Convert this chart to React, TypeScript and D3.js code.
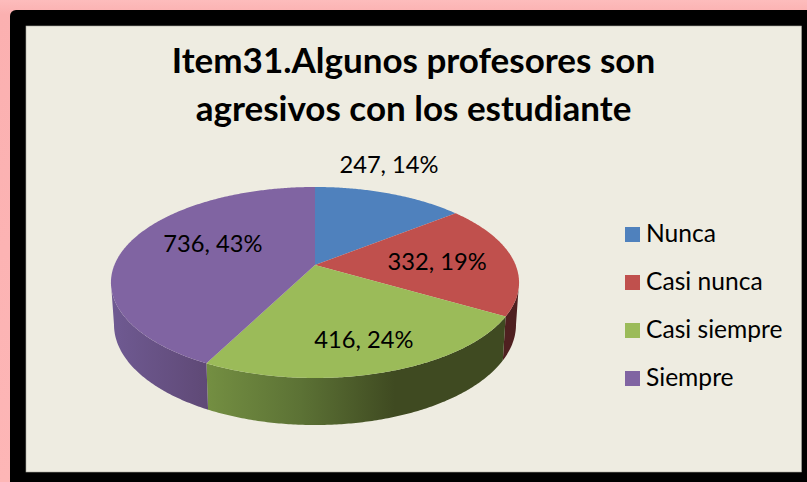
import React from "react";
import * as d3 from "d3";

const categories = ["Nunca", "Casi nunca", "Casi siempre", "Siempre"];
const counts = [247, 332, 416, 736];
const percents = ["14%", "19%", "24%", "43%"];
const topColors = ["#4f81bd", "#c0504d", "#9bbb59", "#8064a2"];
const titleLines = ["Item31.Algunos profesores son", "agresivos con los estudiante"];

// layout constants
const W = 807, H = 482;
const cx = 315, cy = 265;
const A = 200.6, B = 92.3, P = 0.183;
const labelShift: [number, number][] = [[26.5, -55], [3, 1], [11, 16], [12, -8]];
const titleBaselines = [73, 121];
const FONT = "Lato, 'Open Sans', sans-serif";

const project = (a: number, r = 1): [number, number] => {
  const u = r * Math.sin(a), v = -r * Math.cos(a);
  const w = 1 - P * v;
  return [cx + (A * u) / w, cy + (B * v) / w];
};
const projectBottom = (a: number): [number, number] => {
  const [x, y] = project(a);
  return [cx + (x - cx) * 0.985, cy + (y - cy) * 1.05 + 41.4];
};
const sample = (a0: number, a1: number) => {
  const n = Math.max(2, Math.ceil(Math.abs(a1 - a0) / 0.01));
  return d3.range(n + 1).map((i) => a0 + ((a1 - a0) * i) / n);
};
const line = d3.line<[number, number]>().x((d) => d[0]).y((d) => d[1]);

const arcs = d3.pie<number>().sort(null)(counts);
const wallStart = (100.5 * Math.PI) / 180, wallEnd = (259.5 * Math.PI) / 180;
const wallFill = ["none", "#4f2020", "url(#greenWall)", "url(#purpleWall)"];

export default function App() {
  return (
    <svg width={W} height={H} viewBox={`0 0 ${W} ${H}`} style={{ position: "fixed", left: 0, top: 0, display: "block" }}>
      <defs>
        <linearGradient id="pink" x1="0" y1="0" x2="0" y2="1">
          <stop offset="0" stopColor="#fdbcbc" />
          <stop offset="0.03" stopColor="#fbb0b0" />
          <stop offset="1" stopColor="#fdb6b6" />
        </linearGradient>
        <linearGradient id="greenWall" gradientUnits="userSpaceOnUse" x1="206" y1="0" x2="395" y2="0">
          <stop offset="0" stopColor="#748f42" />
          <stop offset="0.5" stopColor="#5c7235" />
          <stop offset="1" stopColor="#3f4a21" />
        </linearGradient>
        <linearGradient id="purpleWall" gradientUnits="userSpaceOnUse" x1="112" y1="0" x2="208" y2="0">
          <stop offset="0" stopColor="#6f5a92" />
          <stop offset="1" stopColor="#5f4976" />
        </linearGradient>
      </defs>
      <rect width={W} height={H} fill="url(#pink)" />
      <rect x={10} y={10} width={W} height={H} rx={6} fill="#000" />
      <rect x={26} y={26} width={775.5} height={446} fill="#eeece1" stroke="#a9a89f" strokeWidth={0.6} />

      {titleLines.map((t, i) => (
        <text key={t} x={413.5} y={titleBaselines[i]} textAnchor="middle" fontFamily={FONT} fontWeight={700} fontSize={35} fill="#000">
          {t}
        </text>
      ))}

      {/* side walls */}
      {arcs.map((d, i) => {
        const a0 = Math.max(d.startAngle, wallStart), a1 = Math.min(d.endAngle, wallEnd);
        if (a1 <= a0) return null;
        const as = sample(a0, a1);
        const pts = [...as.map((a) => project(a)), ...as.slice().reverse().map((a) => projectBottom(a))];
        return <path key={categories[i]} d={line(pts)! + "Z"} fill={wallFill[i]} />;
      })}

      {/* top face */}
      {arcs.map((d, i) => {
        const pts: [number, number][] = [[cx, cy], ...sample(d.startAngle, d.endAngle).map((a) => project(a))];
        return <path key={categories[i]} d={line(pts)! + "Z"} fill={topColors[i]} />;
      })}

      {/* data labels */}
      {arcs.map((d, i) => {
        const [x, y] = project((d.startAngle + d.endAngle) / 2, 0.6);
        return (
          <text key={categories[i]} x={x + labelShift[i][0]} y={y + labelShift[i][1] + 8} textAnchor="middle" fontFamily={FONT} fontSize={23.7} fill="#000">
            {`${counts[i]}, ${percents[i]}`}
          </text>
        );
      })}

      {/* legend */}
      {categories.map((c, i) => (
        <g key={c} transform={`translate(625,${227 + i * 48})`}>
          <rect width={15} height={15} fill={topColors[i]} />
          <text x={21} y={15} fontFamily={FONT} fontSize={24.6} fill="#000">{c}</text>
        </g>
      ))}
    </svg>
  );
}
